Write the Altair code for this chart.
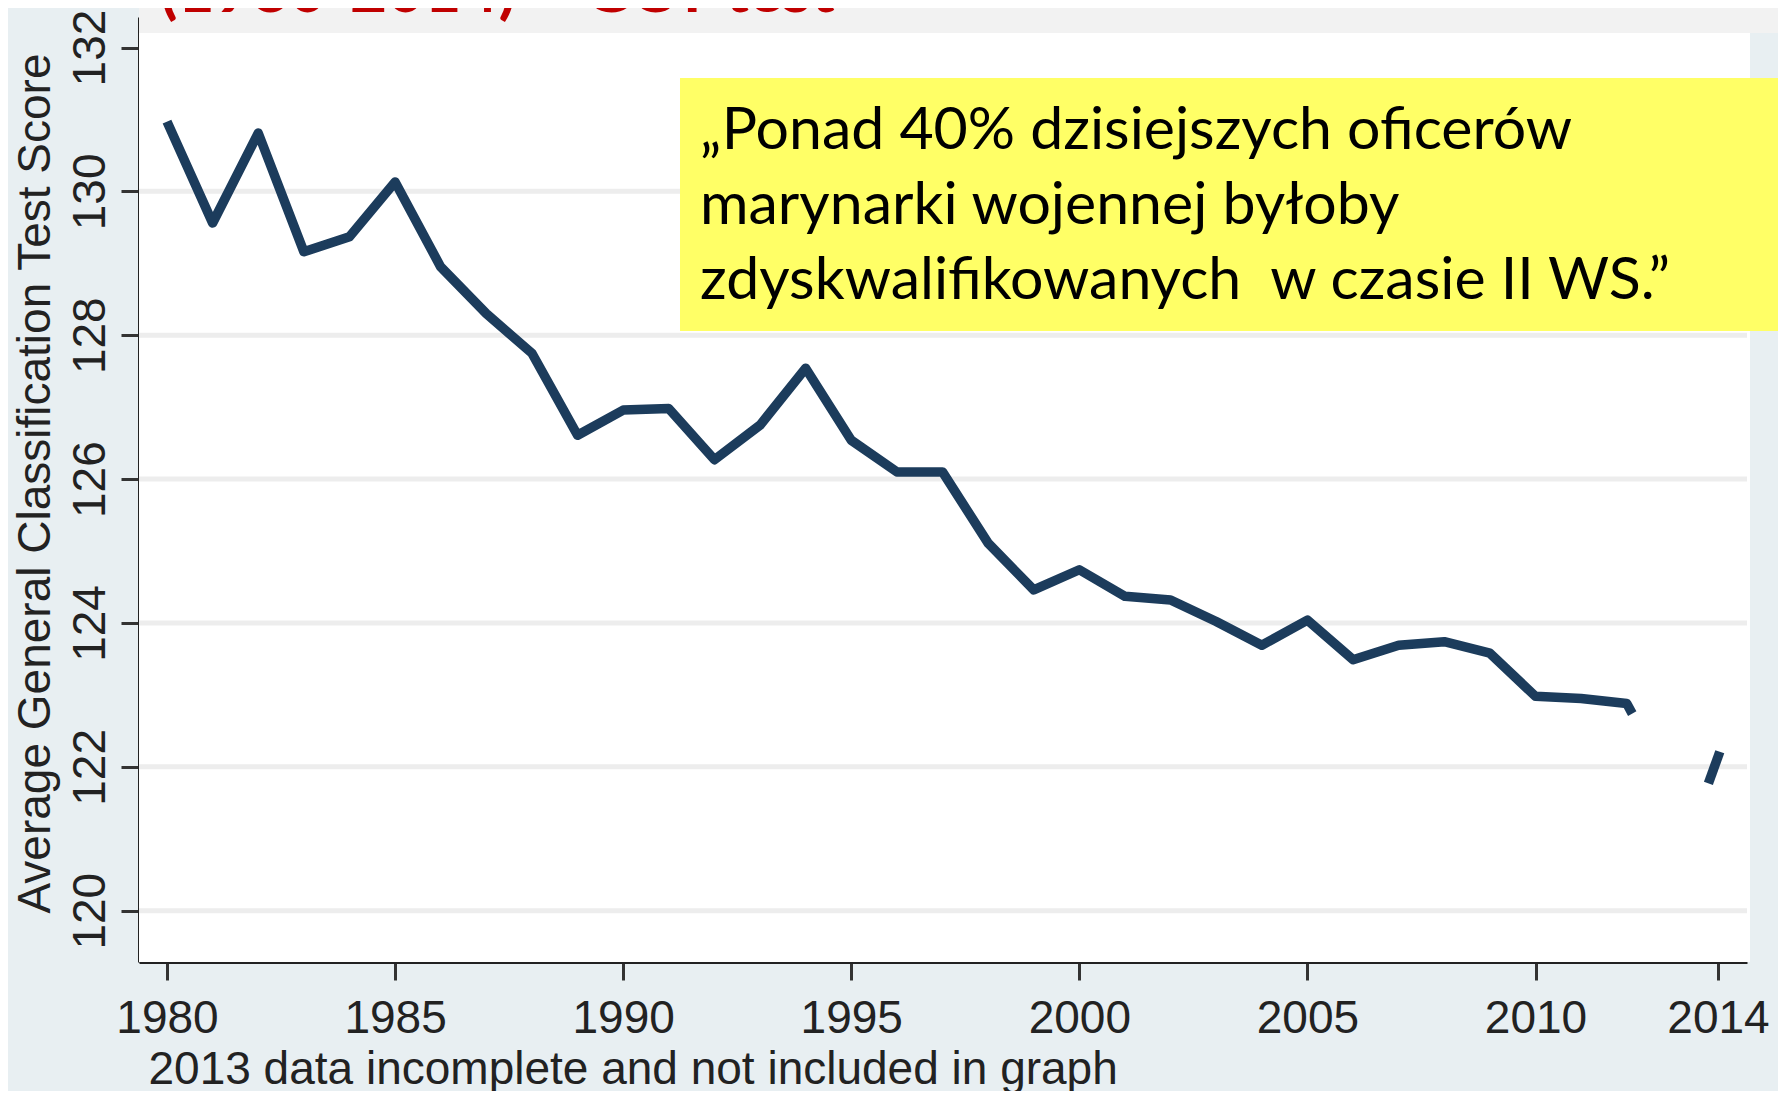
import altair as alt
import pandas as pd

# ---- data ----
years = [1980, 1981, 1982, 1983, 1984, 1985, 1986, 1987, 1988, 1989,
         1990, 1991, 1992, 1993, 1994, 1995, 1996, 1997, 1998, 1999,
         2000, 2001, 2002, 2003, 2004, 2005, 2006, 2007, 2008, 2009,
         2010, 2011, 2012, 2012.12]
scores = [130.97, 129.56, 130.81, 129.16, 129.37, 130.13, 128.95, 128.30, 127.75, 126.61,
          126.96, 126.98, 126.27, 126.75, 127.54, 126.54, 126.10, 126.10, 125.11, 124.46,
          124.74, 124.37, 124.32, 124.02, 123.69, 124.04, 123.49, 123.69, 123.74, 123.58,
          122.98, 122.95, 122.88, 122.74]
frag_years = [2013.79, 2014.04]
frag_scores = [121.77, 122.21]

x_ticks = [1980, 1985, 1990, 1995, 2000, 2005, 2010, 2014]
y_ticks = [120, 122, 124, 126, 128, 130, 132]
grid_vals = [120, 122, 124, 126, 128, 130]

title_text = "(1980-2014) \u2013 GCT test"
quote_lines = ["\u201ePonad 40% dzisiejszych oficer\u00f3w",
               "marynarki wojennej by\u0142oby",
               "zdyskwalifikowanych\u00a0 w czasie II WS.\u201d"]
y_title = "Average General Classification Test Score"
note = "2013 data incomplete and not included in graph"

df = pd.DataFrame({"year": years + frag_years,
                   "score": scores + frag_scores,
                   "seg": ["a"] * len(years) + ["b"] * len(frag_years)})
grid_df = pd.DataFrame({"score": grid_vals})

W, H = 1608, 945
AXF = "Liberation Sans, Arial, sans-serif"
TXT = "#222222"

x_enc = alt.X("year:Q",
              scale=alt.Scale(domain=[1979.386, 2014.636], nice=False, zero=False),
              axis=alt.Axis(values=x_ticks, format="d", grid=False,
                            tickSize=18, tickWidth=3, tickColor="#333333",
                            domainColor="#222222", domainWidth=3,
                            labelFont=AXF, labelFontSize=46, labelColor=TXT,
                            labelBaseline="alphabetic", labelPadding=52,
                            labelFlush=False, labelOverlap=False,
                            title=note, titleFont=AXF, titleFontSize=46,
                            titleFontWeight="normal", titleColor=TXT,
                            titleAlign="left", titleBaseline="alphabetic",
                            titleX=9, titleY=121))
y_enc = alt.Y("score:Q",
              scale=alt.Scale(domain=[119.287, 132.424], nice=False, zero=False),
              axis=alt.Axis(values=y_ticks, format="d", grid=False,
                            tickSize=18, tickWidth=3, tickColor="#333333",
                            domainColor="#222222", domainWidth=3,
                            labelFont=AXF, labelFontSize=46, labelColor=TXT,
                            labelAngle=270, labelAlign="center",
                            labelBaseline="alphabetic", labelPadding=17,
                            labelFlush=False, labelOverlap=False,
                            title=y_title, titleFont=AXF, titleFontSize=46,
                            titleFontWeight="normal", titleColor=TXT,
                            titleAngle=270, titleAlign="center",
                            titleBaseline="alphabetic",
                            titleX=-90, titleY=466))

one = alt.Data(values=[{}])

white_bg = alt.Chart(one).mark_rect(color="white").encode(
    x=alt.value(0), x2=alt.value(W + 3), y=alt.value(16), y2=alt.value(H))
gray_band = alt.Chart(one).mark_rect(color="#f2f2f2").encode(
    x=alt.value(0), x2=alt.value(1639), y=alt.value(-9), y2=alt.value(16))

grid = alt.Chart(grid_df).mark_rule(color="#ededed", strokeWidth=5).encode(
    y=y_enc, x=alt.value(0), x2=alt.value(W))

line = alt.Chart(df).mark_line(color="#1c3c5c", strokeWidth=9.5,
                               strokeJoin="round", strokeCap="butt").encode(
    x=x_enc, y=y_enc, detail="seg:N")

yellow = alt.Chart(one).mark_rect(color="#ffff66").encode(
    x=alt.value(541), x2=alt.value(1639), y=alt.value(61), y2=alt.value(314))

quote = alt.Chart(one).mark_text(
    font="Lato", fontSize=59, color="black", align="left",
    baseline="alphabetic", lineHeight=75).encode(
    x=alt.value(561), y=alt.value(132), text=alt.value(quote_lines))

title = alt.Chart(one).mark_text(
    font="Lato", fontSize=64, fontWeight="bold", color="#c00000",
    align="left", baseline="alphabetic").encode(
    x=alt.value(21), y=alt.value(-5), text=alt.value(title_text))

chart = alt.layer(white_bg, gray_band, grid, line, yellow, quote, title).properties(
    width=W, height=H,
    autosize=alt.AutoSizeParams(type="none"),
    padding={"left": 131, "top": 9, "right": 31, "bottom": 129},
    background="#e8eff2",
).configure_view(stroke=None, fill=None)

chart.save("out.html", embed_options={"renderer": "svg", "actions": False})
